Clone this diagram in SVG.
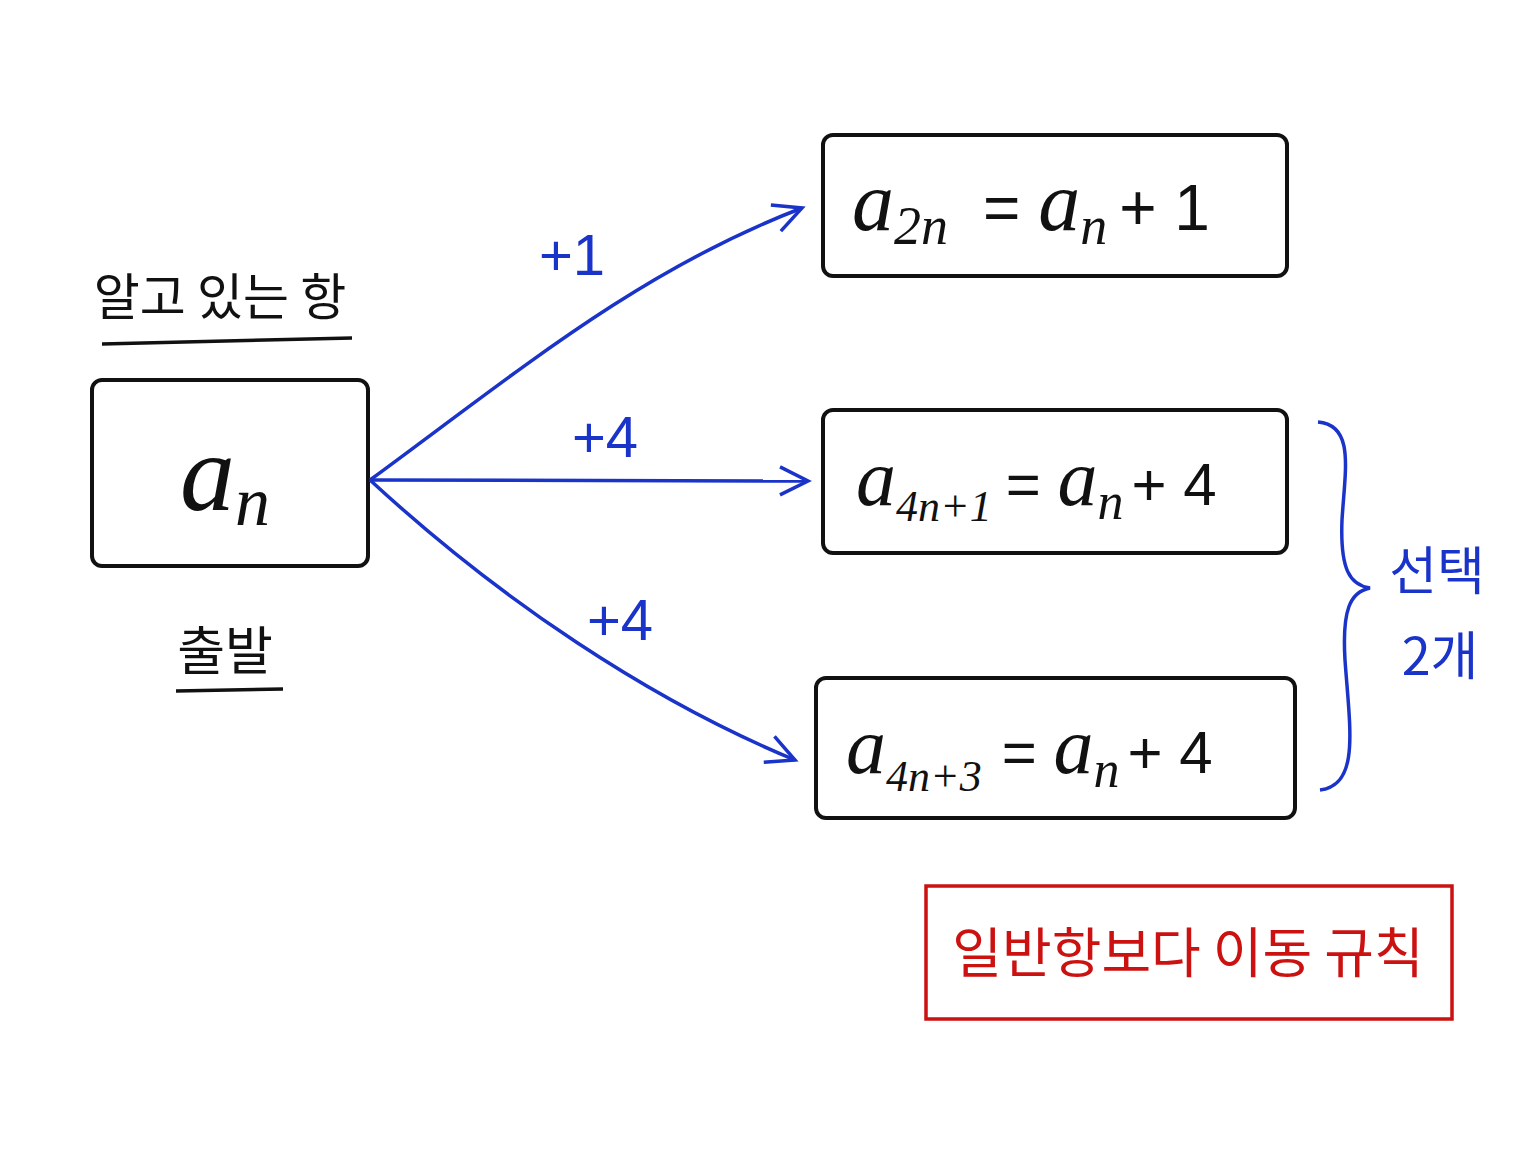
<svg xmlns="http://www.w3.org/2000/svg" width="1536" height="1152" viewBox="0 0 1536 1152">
<style>
.box{fill:none;stroke:#111;stroke-width:4}
.m{font-family:"Liberation Serif",serif;font-style:italic;fill:#111}
.o{font-family:"Liberation Sans",sans-serif;font-style:normal;fill:#111}
.k{font-family:"Noto Sans CJK KR",sans-serif;fill:#111}
.b{fill:#1a33c8}
.c{fill:none;stroke:#1a33c8;stroke-width:3.5}
</style>
<defs>
<marker id="a2" markerWidth="40" markerHeight="40" refX="34" refY="20" orient="auto" markerUnits="userSpaceOnUse"><path d="M6,6 L34,20 L6,34" fill="none" stroke="#1a33c8" stroke-width="3.5"/></marker></defs>
<rect width="1536" height="1152" fill="#fff"/>
<g id="labels-left">
<text class="k" x="220" y="315" font-size="50" text-anchor="middle">알고 있는 항</text>
<line x1="102" y1="344" x2="352" y2="338" stroke="#111" stroke-width="3.5"/>
<text class="k" x="225" y="670" font-size="52" text-anchor="middle">출발</text>
<line x1="176" y1="691" x2="283" y2="689" stroke="#111" stroke-width="3.5"/>
</g>
<g id="start">
<rect class="box" x="92" y="380" width="276" height="186" rx="10"/>
<text class="m" x="180" y="510" font-size="110">a<tspan font-size="70" dy="15">n</tspan></text>
</g>
<g id="n1">
<rect class="box" x="823" y="135" width="464" height="141" rx="10"/>
<text class="m" x="852" y="230" font-size="84">a<tspan font-size="54" dy="14">2n</tspan><tspan class="o" font-size="64" dy="-14" dx="35">= </tspan><tspan>a</tspan><tspan font-size="54" dy="14">n</tspan><tspan class="o" font-size="64" dy="-14" dx="12">+ 1</tspan></text>
</g>
<g id="n2">
<rect class="box" x="823" y="410" width="464" height="143" rx="10"/>
<text class="m" x="856" y="505" font-size="80">a<tspan font-size="44" dy="16">4n+1</tspan><tspan class="o" font-size="60" dy="-16" dx="14">= </tspan><tspan>a</tspan><tspan font-size="52" dy="14">n</tspan><tspan class="o" font-size="60" dy="-14" dx="8">+ 4</tspan></text>
</g>
<g id="n3">
<rect class="box" x="816" y="678" width="479" height="140" rx="10"/>
<text class="m" x="846" y="773" font-size="80">a<tspan font-size="44" dy="18">4n+3</tspan><tspan class="o" font-size="60" dy="-18" dx="20">= </tspan><tspan>a</tspan><tspan font-size="52" dy="14">n</tspan><tspan class="o" font-size="60" dy="-14" dx="8">+ 4</tspan></text>
</g>
<g id="connectors">
<path class="c" d="M370,480 C520,370 640,270 802,208" marker-end="url(#a2)"/>
<path class="c" d="M370,480 L808,481" marker-end="url(#a2)"/>
<path class="c" d="M370,480 C500,600 650,700 795,760" marker-end="url(#a2)"/>
<text class="o b" x="572" y="275" font-size="58" text-anchor="middle">+1</text>
<text class="o b" x="605" y="457" font-size="58" text-anchor="middle">+4</text>
<text class="o b" x="620" y="640" font-size="58" text-anchor="middle">+4</text>
</g>
<g id="brace">
<path class="c" d="M1318,422 C1355,425 1345,470 1342,520 C1340,570 1350,585 1370,588 C1350,592 1342,610 1345,660 C1350,730 1360,785 1320,790"/>
<text class="k b" x="1437" y="590" font-size="52" text-anchor="middle">선택</text>
<text class="k b" x="1440" y="675" font-size="52" text-anchor="middle">2개</text>
</g>
<g id="note">
<rect x="926" y="886" width="526" height="133" fill="none" stroke="#cc1111" stroke-width="3.5"/>
<text class="k" x="1188" y="973" font-size="54" text-anchor="middle" style="fill:#cc1111">일반항보다 이동 규칙</text>
</g>
</svg>
